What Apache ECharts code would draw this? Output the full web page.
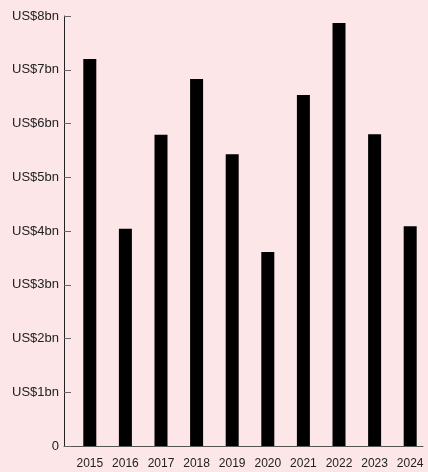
<!DOCTYPE html>
<html>
<head>
<meta charset="utf-8">
<script src="https://cdn.jsdelivr.net/npm/echarts@6/dist/echarts.min.js"></script>
<style>
html,body{margin:0;padding:0;background:#fce6e8;}
#c{width:428px;height:472px;}
</style>
</head>
<body>
<div id="c"></div>
<script>
const years = ['2015','2016','2017','2018','2019','2020','2021','2022','2023','2024'];
const values = [7.20, 4.04, 5.79, 6.83, 5.43, 3.61, 6.53, 7.87, 5.80, 4.09];
const yTicks = [0, 1, 2, 3, 4, 5, 6, 7, 8];

const chart = echarts.init(document.getElementById('c'), null, {renderer: 'canvas'});
const font = 'Liberation Sans, Arial, sans-serif';
chart.setOption({
  backgroundColor: '#fce6e8',
  animation: false,
  grid: [
    {left: 72, right: 0, top: 16, bottom: 26, containLabel: false},
    {left: 64, right: 5, top: 16, bottom: 26, containLabel: false}
  ],
  xAxis: [
    {
      type: 'category', gridIndex: 0, data: years,
      axisLine: {show: false}, axisTick: {show: false},
      axisLabel: {color: '#222', fontSize: 12, fontFamily: font, margin: 12}
    },
    {
      type: 'value', gridIndex: 1, min: 0, max: 1,
      axisLine: {show: true, onZero: false, lineStyle: {color: '#555', width: 1}},
      axisTick: {show: false}, axisLabel: {show: false}, splitLine: {show: false}
    }
  ],
  yAxis: [
    {
      type: 'value', gridIndex: 0, min: yTicks[0], max: yTicks[yTicks.length - 1], interval: 1,
      offset: 8,
      axisLine: {show: true, lineStyle: {color: '#222', width: 1}},
      axisTick: {show: true, inside: true, length: 7, lineStyle: {color: '#666'}},
      splitLine: {show: false},
      axisLabel: {
        color: '#222', fontSize: 13, fontFamily: font, margin: 5,
        padding: [0, 0, 3, 0],
        formatter: v => v === 0 ? '0' : 'US$' + v + 'bn'
      }
    },
    {
      type: 'value', gridIndex: 1, min: 0, max: 1, show: false
    }
  ],
  series: [{
    type: 'bar', xAxisIndex: 0, yAxisIndex: 0,
    data: values, barWidth: 13,
    itemStyle: {color: '#000'}
  }]
});
</script>
</body>
</html>
